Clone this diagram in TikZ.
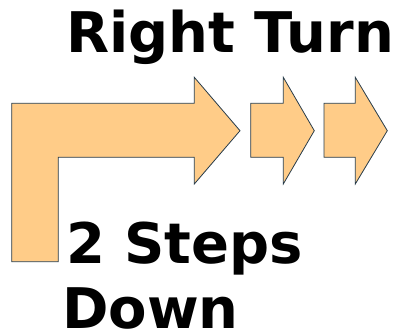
\documentclass[tikz,border=0pt]{standalone}
\usepackage{fontspec}
\setmainfont{DejaVu Sans}
\definecolor{arrowfill}{RGB}{255,204,136}
\definecolor{arrowline}{RGB}{40,60,75}
\begin{document}
\begin{tikzpicture}[x=1pt,y=-1pt,
  shapestyle/.style={fill=arrowfill,draw=arrowline,line width=0.8pt,line join=miter},
  label/.style={anchor=base west,inner sep=0pt,font=\fontsize{56}{64}\selectfont\bfseries}]
\useasboundingbox (0,0) rectangle (396,331);
% big bent arrow
\draw[shapestyle] (11.7,261.7) -- (11.7,103.3) -- (194.3,103.3) -- (194.3,77.3) -- (240,130.7)
  -- (194.3,184) -- (194.3,157.3) -- (58.3,157.3) -- (58.3,261.7) -- cycle;
% small arrow 1
\draw[shapestyle] (250.7,103.3) -- (283.3,103.3) -- (283.3,77.3) -- (314.3,130.7)
  -- (283.3,184) -- (283.3,157.3) -- (250.7,157.3) -- cycle;
% small arrow 2
\draw[shapestyle] (324,103.3) -- (355.3,103.3) -- (355.3,77.3) -- (387.3,130.7)
  -- (355.3,184) -- (355.3,157.3) -- (324,157.3) -- cycle;
\node[label] (title) at (66,53) {Right Turn};
\node[label] (steps) at (66,263) {2 Steps};
\node[label] (down) at (62,328.5) {Down};
\end{tikzpicture}
\end{document}
